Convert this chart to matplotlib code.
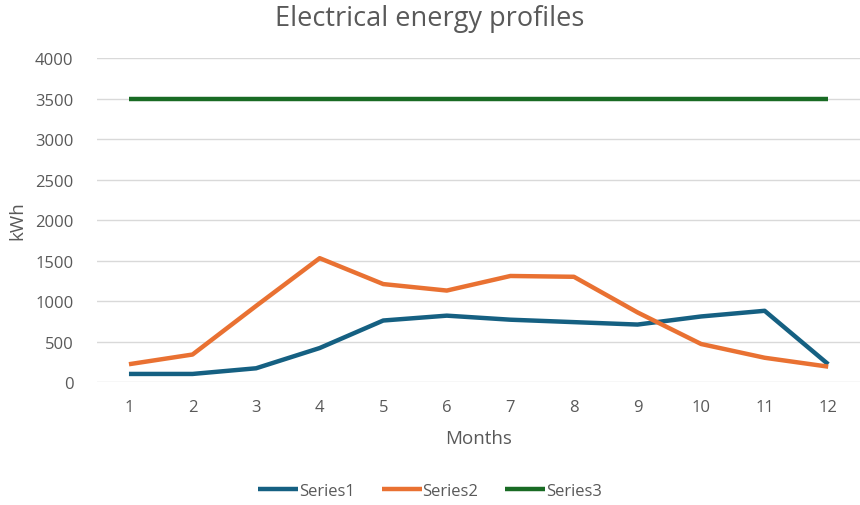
import matplotlib.pyplot as plt

plt.rcParams['font.family'] = ['Open Sans', 'DejaVu Sans']

months = list(range(1, 13))
series1 = [100, 100, 170, 420, 760, 820, 770, 740, 710, 810, 880, 220]
series2 = [220, 340, 940, 1530, 1210, 1130, 1310, 1300, 860, 470, 300, 190]
series3 = [3500] * 12

colors = {"Series1": "#156082", "Series2": "#E97132", "Series3": "#196B24"}
text_grey = "#595959"

fig = plt.figure(figsize=(8.6, 5.06), dpi=100)
ax = fig.add_axes([0.113, 0.243, 0.887, 0.640])

for name, vals in [("Series1", series1), ("Series2", series2), ("Series3", series3)]:
    ax.plot(months, vals, color=colors[name], linewidth=3.2, label=name,
            solid_capstyle="butt", solid_joinstyle="round")

ax.set_xlim(0.5, 12.5)
ax.set_ylim(0, 4000)
ax.set_xticks(months)
ax.set_yticks(range(0, 4001, 500))
ax.grid(axis="y", color="#D9D9D9", linewidth=1)
ax.set_axisbelow(True)
for s in ax.spines.values():
    s.set_visible(False)
ax.tick_params(length=0, labelsize=12, colors=text_grey, pad=12)
ax.tick_params(axis="y", pad=17)

ax.set_xlabel("Months", fontsize=13.5, color=text_grey, labelpad=10)
ax.set_ylabel("kWh", fontsize=13.5, color=text_grey, labelpad=6)
fig.text(0.5, 0.963, "Electrical energy profiles", ha="center", va="center",
         fontsize=19.5, color=text_grey)

fig.legend(loc="center", bbox_to_anchor=(0.5, 0.028), ncol=3, frameon=False,
           fontsize=12, labelcolor=text_grey, handlelength=2.4,
           handletextpad=0.05, columnspacing=1.6)

fig.savefig("out.png", dpi=100)
